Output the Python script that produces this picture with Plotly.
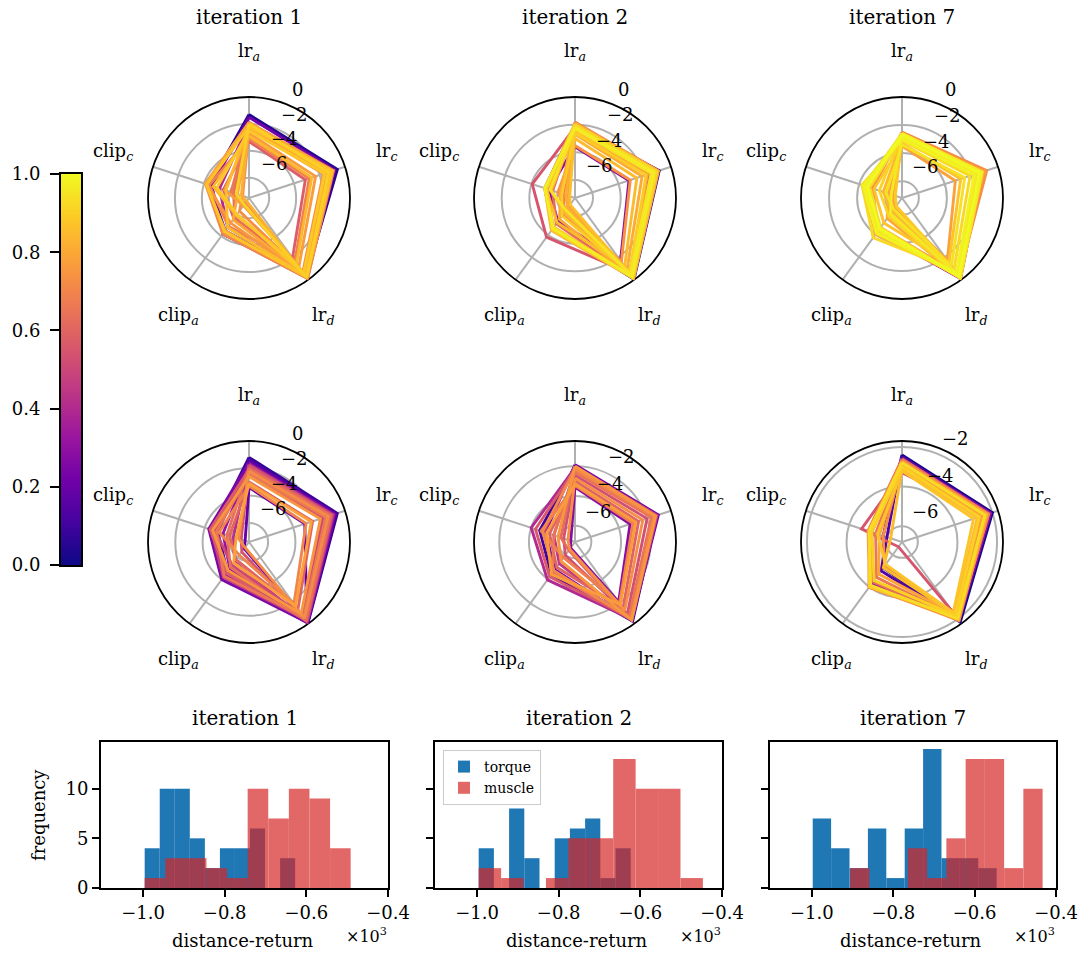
import numpy as np
import plotly.graph_objects as go
from plotly.colors import sample_colorscale
import plotly.express as px

W, H = 1082, 957
FONT = "DejaVu Serif"

# ---------------- data ----------------
spoke_labels = ["lr<sub><i>a</i></sub>", "lr<sub><i>c</i></sub>", "lr<sub><i>d</i></sub>",
                "clip<sub><i>a</i></sub>", "clip<sub><i>c</i></sub>"]
iteration_titles = ["iteration 1", "iteration 2", "iteration 7"]
radial_ticks = [-6, -4, -2, 0]
radial_ticktext = ["\u22126", "\u22124", "\u22122", "0"]

# each row: [lr_a, lr_c, lr_d, clip_a, clip_c]; colour value in [0, 1]
r1c1_vals = [
    [-1.3, -0.6, -0.3, -4.5, -4.4], [-1.5, -0.8, -0.2, -4.2, -4.6], [-2.0, -1.1, -0.4, -4.8, -5.2],
    [-2.1, -1.3, -0.5, -4.3, -4.3], [-3.3, -3.1, -2.0, -5.6, -5.5], [-1.9, -1.0, -0.1, -5.7, -6.3],
    [-2.2, -1.4, -0.3, -7.0, -6.1], [-3.1, -2.8, -1.7, -4.9, -4.4], [-1.9, -0.9, -0.1, -4.2, -4.1],
    [-2.4, -1.7, -0.7, -6.3, -7.0], [-2.0, -1.1, -0.3, -5.2, -4.2], [-2.7, -2.3, -1.2, -6.8, -5.6],
    [-1.9, -1.0, -0.2, -4.5, -4.1], [-2.3, -1.5, -0.5, -5.5, -6.6], [-2.0, -1.2, -0.2, -7.2, -6.9],
    [-2.9, -2.6, -1.5, -5.9, -4.7], [-2.1, -1.2, -0.3, -4.8, -5.7], [-2.2, -1.0, -0.3, -4.4, -4.2],
    [-2.5, -1.6, -0.6, -6.0, -5.0], [-2.0, -1.3, -0.2, -6.9, -6.5],
]
r1c1_color = [0.04, 0.22, 0.40, 0.52, 0.58, 0.63, 0.66, 0.69, 0.71, 0.73,
              0.75, 0.77, 0.79, 0.80, 0.82, 0.84, 0.85, 0.87, 0.88, 0.90]

r1c2_vals = [
    [-2.0, -0.9, -0.05, -4.6, -5.0], [-3.6, -3.2, -1.7, -5.2, -5.3], [-2.2, -1.6, -0.6, -3.8, -4.05],
    [-2.0, -1.1, -0.2, -5.0, -5.6], [-1.8, -0.95, -0.1, -5.8, -6.5], [-2.3, -1.4, -0.3, -4.5, -5.1],
    [-3.5, -3.1, -1.6, -6.2, -6.0], [-1.9, -1.0, -0.15, -6.6, -6.8], [-2.5, -1.8, -0.5, -4.6, -5.2],
    [-2.0, -1.2, -0.1, -5.4, -6.2], [-2.7, -2.2, -0.9, -6.4, -6.6], [-1.9, -1.0, -0.1, -4.4, -5.0],
    [-2.4, -1.5, -0.4, -6.0, -5.5], [-3.0, -2.6, -1.2, -5.1, -5.1], [-2.1, -1.2, -0.2, -6.7, -6.9],
    [-2.2, -1.3, -0.3, -4.7, -5.0], [-2.6, -1.9, -0.6, -5.7, -6.3], [-2.0, -1.1, -0.2, -4.5, -5.1],
    [-2.3, -1.5, -0.5, -6.2, -5.4], [-2.2, -1.3, -0.3, -4.6, -5.0],
]
r1c2_color = [0.03, 0.30, 0.55, 0.62, 0.68, 0.72, 0.74, 0.76, 0.78, 0.80,
              0.81, 0.83, 0.84, 0.85, 0.86, 0.88, 0.89, 0.92, 0.95, 0.97]

r1c3_vals = [
    [-2.6, -1.2, -0.1, -4.2, -4.9], [-2.5, -0.85, -0.3, -4.3, -5.0], [-2.7, -1.0, -0.6, -4.6, -4.5],
    [-3.5, -3.2, -1.7, -6.3, -6.5], [-2.6, -1.1, -0.2, -5.4, -6.2], [-2.8, -1.3, -0.4, -4.0, -4.3],
    [-3.0, -1.6, -0.6, -6.0, -5.8], [-2.6, -1.2, -0.2, -4.3, -4.4], [-3.3, -2.8, -1.5, -5.0, -5.1],
    [-2.7, -1.4, -0.3, -6.5, -6.7], [-2.9, -1.5, -0.5, -4.4, -4.3], [-2.6, -1.2, -0.1, -5.6, -5.5],
    [-3.1, -2.1, -0.9, -3.7, -4.2], [-2.8, -1.3, -0.3, -4.6, -4.8], [-3.4, -2.5, -1.2, -6.2, -6.0],
    [-2.7, -1.3, -0.3, -4.2, -4.3], [-2.9, -1.6, -0.5, -5.8, -6.4], [-2.6, -1.2, -0.2, -4.4, -4.5],
    [-3.0, -1.8, -0.6, -4.1, -4.3], [-2.7, -1.4, -0.3, -4.5, -4.6],
]
r1c3_color = [0.35, 0.72, 0.76, 0.78, 0.80, 0.82, 0.84, 0.86, 0.87, 0.88,
              0.90, 0.91, 0.92, 0.93, 0.94, 0.95, 0.96, 0.97, 0.98, 1.00]

r2c1_vals = [
    [-1.2, -0.6, -0.05, -4.3, -4.6], [-1.4, -0.7, -0.1, -4.7, -5.0], [-3.4, -3.1, -0.2, -6.8, -7.1],
    [-1.6, -0.8, -0.1, -4.0, -4.3], [-1.9, -1.0, -0.2, -5.0, -5.4], [-2.0, -1.1, -0.3, -4.4, -4.7],
    [-1.7, -0.9, -0.15, -5.6, -6.2], [-2.2, -1.3, -0.4, -4.2, -4.5], [-2.5, -1.7, -0.7, -5.3, -4.8],
    [-1.8, -1.0, -0.2, -6.5, -6.8], [-2.1, -1.2, -0.3, -4.6, -4.4], [-3.0, -2.5, -1.3, -5.8, -5.9],
    [-2.0, -1.1, -0.3, -5.1, -5.7], [-2.4, -1.5, -0.6, -4.3, -4.9], [-3.3, -3.0, -1.8, -6.2, -5.1],
    [-2.2, -1.3, -0.5, -6.9, -6.6], [-2.6, -1.9, -0.9, -4.8, -4.6], [-3.1, -2.6, -1.6, -5.5, -6.4],
]
r2c1_color = [0.08, 0.15, 0.20, 0.25, 0.32, 0.38, 0.42, 0.47, 0.50, 0.54,
              0.57, 0.60, 0.63, 0.66, 0.70, 0.72, 0.75, 0.78]

r2c2_vals = [
    [-2.0, -1.3, -0.5, -4.4, -4.6], [-1.9, -1.2, -0.6, -4.8, -5.0], [-3.4, -3.2, -2.1, -6.6, -6.8],
    [-2.1, -1.4, -0.7, -3.95, -4.0], [-2.3, -1.6, -0.8, -5.3, -5.6], [-2.0, -1.3, -0.6, -4.6, -4.9],
    [-2.6, -2.0, -1.1, -6.0, -6.3], [-2.2, -1.5, -0.8, -4.2, -4.3], [-3.0, -2.6, -1.6, -5.0, -5.3],
    [-2.1, -1.4, -0.7, -6.4, -6.1], [-2.4, -1.7, -0.9, -4.5, -5.6], [-3.3, -3.0, -2.0, -5.8, -4.7],
    [-2.2, -1.5, -0.7, -4.7, -4.8], [-2.8, -2.3, -1.4, -6.5, -6.6], [-2.0, -1.4, -0.6, -5.5, -5.9],
    [-3.2, -2.8, -1.9, -4.4, -5.1],
]
r2c2_color = [0.10, 0.22, 0.28, 0.40, 0.45, 0.50, 0.53, 0.56, 0.59, 0.62,
              0.65, 0.68, 0.71, 0.73, 0.75, 0.77]

r2c3_vals = [
    [-2.4, -2.0, -1.8, -5.2, -5.8], [-2.5, -2.1, -2.0, -5.0, -6.0], [-2.6, -2.1, -1.9, -4.2, -5.2],
    [-3.3, -2.3, -2.4, -6.5, -4.65], [-2.6, -2.2, -2.0, -4.3, -5.0], [-2.8, -2.4, -2.1, -4.6, -5.4],
    [-2.7, -2.2, -2.0, -3.96, -5.1], [-2.9, -2.5, -2.2, -5.3, -5.8], [-2.7, -2.3, -1.9, -4.0, -5.0],
    [-3.0, -2.6, -2.3, -4.8, -5.6], [-2.8, -2.3, -2.0, -4.1, -5.1], [-3.1, -2.8, -2.3, -5.2, -6.2],
    [-3.2, -3.0, -2.4, -5.4, -5.5], [-2.8, -2.4, -2.1, -4.0, -5.1], [-3.0, -2.7, -2.2, -4.4, -5.2],
    [-2.8, -2.4, -2.0, -4.1, -5.05],
]
r2c3_color = [0.02, 0.15, 0.30, 0.55, 0.62, 0.66, 0.70, 0.73, 0.76, 0.79,
              0.82, 0.85, 0.87, 0.88, 0.90, 0.93]

radial_ranges = [[-7.5, 0.0], [-7.3, 0.0], [-7.2, 0.0],
                 [-7.4, 0.0], [-7.1, -0.3], [-6.8, -1.7]]

# histogram data (values in units of 10^3)
hist_counts_torque = [[4, 10, 10, 5, 2, 4, 4, 6, 0, 3],
                      [4, 0, 8, 3, 0, 5, 6, 7, 1, 4],
                      [7, 4, 2, 6, 1, 6, 14, 3, 3, 2]]
hist_range_torque = [[-0.996, -0.6275], [-0.996, -0.6236], [-0.998, -0.5458]]
hist_counts_muscle = [[1, 3, 3, 2, 1, 10, 7, 10, 9, 4],
                      [2, 1, 0, 1, 5, 5, 13, 10, 10, 1],
                      [2, 0, 0, 4, 1, 5, 13, 13, 2, 10]]
hist_range_muscle = [[-0.996, -0.4915], [-0.996, -0.4468], [-0.906, -0.4329]]
hist_xticks = [-1.0, -0.8, -0.6, -0.4]
hist_xticktext = ["\u22121.0", "\u22120.8", "\u22120.6", "\u22120.4"]
hist_yticks = [0, 5, 10]
cbar_ticks = [0.0, 0.2, 0.4, 0.6, 0.8, 1.0]

panel_vals = [r1c1_vals, r1c2_vals, r1c3_vals, r2c1_vals, r2c2_vals, r2c3_vals]
panel_colors = [r1c1_color, r1c2_color, r1c3_color, r2c1_color, r2c2_color, r2c3_color]

# ---------------- layout geometry (pixels) ----------------
col_cx = [249, 575, 902]
row_cy = [198, 542]
RAD = 101
spoke_theta = [0, 72, 144, 216, 288]
label_offsets = [(0, -146), (137, -46), (74, 118), (-71, 118), (-136, -46)]
RLABEL_ANGLE = np.deg2rad(67.5)
hist_x = [(101, 388), (435, 722), (770, 1056)]
hist_y = (742, 888)
cbar_box = (61, 81, 174, 565)

def px_x(v):
    return v / W

def px_y(v):
    return 1 - v / H

def text_ann(text, x, y, size, xanchor="center", yanchor="middle", **kw):
    return dict(text=text, x=px_x(x), y=px_y(y), xref="paper", yref="paper",
                showarrow=False, xanchor=xanchor, yanchor=yanchor,
                font=dict(size=size, family=FONT, color="black"), **kw)

plasma = px.colors.sequential.Plasma
fig = go.Figure()
layout = dict(
    width=W, height=H, margin=dict(l=0, r=0, t=0, b=0, autoexpand=False),
    paper_bgcolor="white", plot_bgcolor="white",
    font=dict(family=FONT, size=18, color="black"),
    barmode="overlay", showlegend=True,
)
annotations = []

for k in range(6):
    row, col = divmod(k, 3)
    cx, cy = col_cx[col], row_cy[row]
    pname = "polar" if k == 0 else f"polar{k+1}"
    cols = sample_colorscale(plasma, panel_colors[k])
    order = np.argsort(panel_colors[k], kind="stable")
    for i in order:
        v = panel_vals[k][i]
        fig.add_trace(go.Scatterpolar(
            r=list(v) + [v[0]], theta=spoke_theta + [360],
            mode="lines", line=dict(color=cols[i], width=2.9),
            subplot=pname, showlegend=False, hoverinfo="skip"))
    lo, hi = radial_ranges[k]
    layout[pname] = dict(
        domain=dict(x=[px_x(cx - RAD), px_x(cx + RAD)], y=[px_y(cy + RAD), px_y(cy - RAD)]),
        bgcolor="white",
        angularaxis=dict(rotation=90, direction="clockwise", tickmode="array",
                         tickvals=spoke_theta, showticklabels=False, ticks="",
                         showgrid=True, gridcolor="#b0b0b0", gridwidth=1.6,
                         showline=True, linecolor="black", linewidth=1.8,
                         layer="below traces"),
        radialaxis=dict(range=[lo, hi], tickmode="array", tickvals=radial_ticks,
                        showticklabels=False, showline=False, ticks="",
                        gridcolor="#b0b0b0", gridwidth=1.6, layer="below traces"),
    )
    for lab, (dx, dy) in zip(spoke_labels, label_offsets):
        annotations.append(text_ann(lab, cx + dx, cy + dy, 18))
    # radial tick labels placed along the 67.5 degree direction
    for tv, tt in zip(radial_ticks, radial_ticktext):
        if lo <= tv <= hi + 1e-9:
            rp = (tv - lo) / (hi - lo) * RAD
            px0 = cx + rp * np.cos(RLABEL_ANGLE)
            py0 = cy - rp * np.sin(RLABEL_ANGLE)
            annotations.append(text_ann(tt, px0 + 2, py0 - 3, 18,
                                        xanchor="left", yanchor="bottom"))

for c in range(3):
    annotations.append(text_ann(iteration_titles[c], col_cx[c], 17, 20))

# histograms
for j in range(3):
    xa = "x" if j == 0 else f"x{j+1}"
    ya = "y" if j == 0 else f"y{j+1}"
    for counts, rng, color, op, name in [
            (hist_counts_torque[j], hist_range_torque[j], "#1f77b4", 1.0, "torque"),
            (hist_counts_muscle[j], hist_range_muscle[j], "#d62728", 0.7, "muscle")]:
        edges = np.linspace(rng[0], rng[1], len(counts) + 1)
        fig.add_trace(go.Bar(x=(edges[:-1] + edges[1:]) / 2, y=counts, width=np.diff(edges),
                             marker=dict(color=color, line=dict(width=0)), opacity=op,
                             name=name, xaxis=xa, yaxis=ya, showlegend=(j == 1),
                             hoverinfo="skip"))
    xkey = "xaxis" if j == 0 else f"xaxis{j+1}"
    ykey = "yaxis" if j == 0 else f"yaxis{j+1}"
    x0, x1 = hist_x[j]
    layout[xkey] = dict(domain=[px_x(x0), px_x(x1)], anchor=ya, range=[-1.103, -0.4],
                        tickmode="array", tickvals=hist_xticks, ticktext=hist_xticktext,
                        ticks="outside", ticklen=7, tickwidth=1.6, tickcolor="black",
                        showline=True, mirror=True, linecolor="black", linewidth=1.8,
                        showgrid=False, zeroline=False, tickfont=dict(size=18, family=FONT))
    layout[ykey] = dict(domain=[px_y(hist_y[1]), px_y(hist_y[0])], anchor=xa, range=[0, 14.7],
                        tickmode="array", tickvals=hist_yticks, showticklabels=(j == 0),
                        ticks="outside", ticklen=7, tickwidth=1.6, tickcolor="black",
                        showline=True, mirror=True, linecolor="black", linewidth=1.8,
                        showgrid=False, zeroline=False, tickfont=dict(size=18, family=FONT))
    mid = (x0 + x1) / 2
    annotations.append(text_ann(iteration_titles[j], mid, 718, 20))
    annotations.append(text_ann("distance-return", mid - 2, 940, 18))
    annotations.append(text_ann("\u00d710<sup>3</sup>", x1 - 22, 935, 16))

annotations.append(text_ann("frequency", 38, 815, 18, textangle=-90))

# colour bar drawn as a thin heatmap with its own axes
grad = np.linspace(0, 1, 256)
fig.add_trace(go.Heatmap(z=[[g] for g in grad], x=[0], y=grad, colorscale="Plasma",
                         zmin=0, zmax=1, showscale=False, xaxis="x4", yaxis="y4",
                         hoverinfo="skip"))
layout["xaxis4"] = dict(domain=[px_x(cbar_box[0]), px_x(cbar_box[1])], anchor="y4",
                        range=[-0.5, 0.5], showticklabels=False, ticks="", showgrid=False,
                        zeroline=False, showline=True, mirror=True, linecolor="black",
                        linewidth=1.8)
layout["yaxis4"] = dict(domain=[px_y(cbar_box[3]), px_y(cbar_box[2])], anchor="x4",
                        range=[0, 1], tickmode="array", tickvals=cbar_ticks,
                        ticktext=[f"{t:.1f}" for t in cbar_ticks], ticks="outside",
                        ticklen=9, tickwidth=1.6, tickcolor="black", showgrid=False,
                        zeroline=False, showline=True, mirror=True, linecolor="black",
                        linewidth=1.8, ticklabelstandoff=6,
                        tickfont=dict(size=18, family=FONT))

layout["legend"] = dict(x=px_x(443), y=px_y(750), xanchor="left", yanchor="top",
                        bgcolor="white", bordercolor="#cccccc", borderwidth=1,
                        font=dict(size=14, family=FONT), traceorder="normal")
layout["annotations"] = annotations
fig.update_layout(**layout)
fig.write_html("out.html", config={"displayModeBar": False},
               post_script="document.body.style.margin='0px';"
                           "document.body.style.overflow='hidden';")
